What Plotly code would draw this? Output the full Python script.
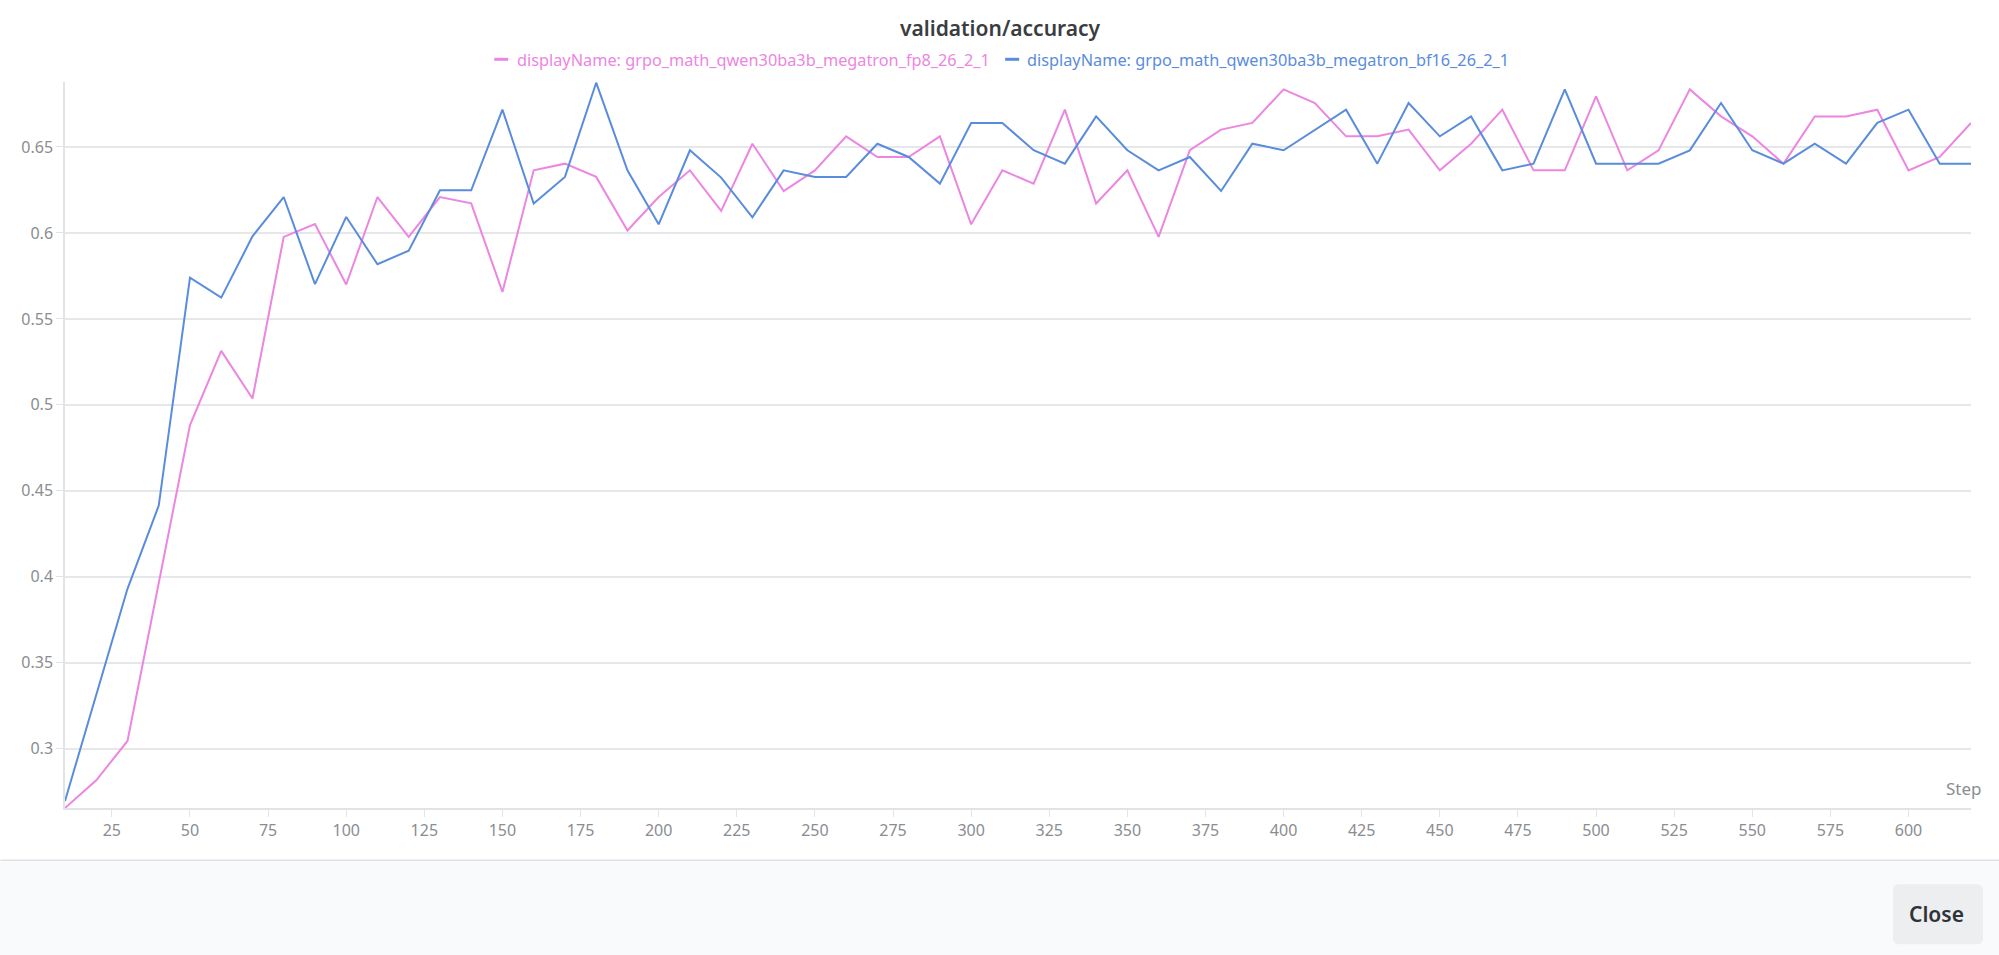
import plotly.graph_objects as go

WIDTH = 1999
HEIGHT = 955

steps = list(range(10, 621, 10))

fp8_name = "displayName: grpo_math_qwen30ba3b_megatron_fp8_26_2_1"
fp8_values = [
    0.2655, 0.2816, 0.3045, 0.396, 0.4882, 0.5314, 0.5037, 0.5977, 0.6052, 0.57,
    0.6209, 0.5977, 0.6209, 0.6172, 0.5657, 0.6364, 0.6403, 0.6326, 0.6014, 0.6209,
    0.6364, 0.6128, 0.6519, 0.6244, 0.6364, 0.6562, 0.6442, 0.6442, 0.6562, 0.605,
    0.6364, 0.6287, 0.6717, 0.6171, 0.6364, 0.5977, 0.6481, 0.6601, 0.664, 0.6835,
    0.6756, 0.6562, 0.6562, 0.6601, 0.6364, 0.6519, 0.6717, 0.6364, 0.6364, 0.6795,
    0.6364, 0.648, 0.6835, 0.6678, 0.6562, 0.6403, 0.6678, 0.6678, 0.6717, 0.6364,
    0.6442, 0.664,
]

bf16_name = "displayName: grpo_math_qwen30ba3b_megatron_bf16_26_2_1"
bf16_values = [
    0.2696, 0.332, 0.393, 0.4414, 0.574, 0.5624, 0.598, 0.6209, 0.5702, 0.6093,
    0.5818, 0.5897, 0.6248, 0.6248, 0.6717, 0.6171, 0.6326, 0.6874, 0.6364, 0.605,
    0.6481, 0.6322, 0.6091, 0.6364, 0.6326, 0.6326, 0.6519, 0.6442, 0.6287, 0.664,
    0.664, 0.6481, 0.6403, 0.6678, 0.6481, 0.6364, 0.6442, 0.6244, 0.6519, 0.6481,
    0.66, 0.6717, 0.6403, 0.6756, 0.6562, 0.6678, 0.6364, 0.6403, 0.6835, 0.6403,
    0.6403, 0.6403, 0.648, 0.6756, 0.6481, 0.6403, 0.6519, 0.6403, 0.664, 0.6717,
    0.6403, 0.6403,
]

x_ticks = list(range(25, 601, 25))
y_ticks = [0.3, 0.35, 0.4, 0.45, 0.5, 0.55, 0.6, 0.65]
y_labels = ["0.3", "0.35", "0.4", "0.45", "0.5", "0.55", "0.6", "0.65"]

PINK = "#ec86e0"
BLUE = "#5a8cdc"
FONT = "Noto Sans"

# plot area in page pixels
left, right, top, bottom = 64.7, 1971, 81.7, 807.7


def px(x):
    return (x - left) / (right - left)


def py(y):
    return (bottom - y) / (bottom - top)


fig = go.Figure()
fig.add_trace(go.Scatter(x=steps, y=fp8_values, mode="lines", name=fp8_name,
                         line=dict(color=PINK, width=2)))
fig.add_trace(go.Scatter(x=steps, y=bf16_values, mode="lines", name=bf16_name,
                         line=dict(color=BLUE, width=2)))

fig.update_layout(
    width=WIDTH,
    height=HEIGHT,
    autosize=False,
    showlegend=False,
    paper_bgcolor="white",
    plot_bgcolor="white",
    font=dict(family=FONT, size=16, color="#8a8d91"),
    margin=dict(l=left, r=WIDTH - right, t=top, b=HEIGHT - bottom, pad=0),
    xaxis=dict(range=[10, 620], tickvals=x_ticks, ticks="outside", ticklen=7,
               tickcolor="#e2e3e5", showgrid=False, showline=True, linecolor="#e2e3e5",
               linewidth=1.5, zeroline=False, tickfont=dict(size=16, color="#8a8d91")),
    yaxis=dict(range=[0.2655, 0.6878], tickvals=y_ticks, ticktext=y_labels,
               ticks="outside", ticklen=7, tickcolor="#e2e3e5", gridcolor="#e6e7e9",
               gridwidth=1.5, showline=True, linecolor="#e2e3e5", linewidth=1.5,
               zeroline=False, tickfont=dict(size=16, color="#8a8d91")),
)


def page_text(text, x, y, size, color, anchor="center", bold=False):
    fig.add_annotation(text=text, x=px(x), y=py(y), xref="paper", yref="paper",
                       showarrow=False, xanchor=anchor, yanchor="middle",
                       font=dict(family=FONT, size=size, color=color,
                                 weight=600 if bold else 400))


page_text("validation/accuracy", 1000, 28, 21, "#3a3d41", bold=True)
page_text("Step", 1984, 788, 17, "#8a8d91", anchor="right")

# legend: short dash plus coloured text, placed like the original
page_text(fp8_name, 515, 60, 16.3, PINK, anchor="left")
page_text(bf16_name, 1025, 60, 16.3, BLUE, anchor="left")
for x0, x1, color in [(494, 508, PINK), (1005, 1019, BLUE)]:
    fig.add_shape(type="line", xref="paper", yref="paper", x0=px(x0), x1=px(x1),
                  y0=py(59), y1=py(59), line=dict(color=color, width=3))

# footer band with the Close button
fig.add_shape(type="rect", xref="paper", yref="paper", layer="below",
              x0=px(0), x1=px(WIDTH), y0=py(860), y1=py(HEIGHT),
              fillcolor="#f9fafb", line=dict(width=0))
fig.add_shape(type="line", xref="paper", yref="paper", x0=px(0), x1=px(WIDTH),
              y0=py(860), y1=py(860), line=dict(color="#dfe1e4", width=1.5))

bx0, bx1, by0, by1, r = 1893, 1983, 884, 944, 6
button_path = (
    f"M {px(bx0 + r)} {py(by0)} L {px(bx1 - r)} {py(by0)} "
    f"Q {px(bx1)} {py(by0)} {px(bx1)} {py(by0 + r)} L {px(bx1)} {py(by1 - r)} "
    f"Q {px(bx1)} {py(by1)} {px(bx1 - r)} {py(by1)} L {px(bx0 + r)} {py(by1)} "
    f"Q {px(bx0)} {py(by1)} {px(bx0)} {py(by1 - r)} L {px(bx0)} {py(by0 + r)} "
    f"Q {px(bx0)} {py(by0)} {px(bx0 + r)} {py(by0)} Z"
)
fig.add_shape(type="path", xref="paper", yref="paper", path=button_path,
              fillcolor="#eceef0", line=dict(width=0))
page_text("Close", 1936, 914, 21, "#2f3338", bold=True)

fig.write_html("out.html", config=dict(displayModeBar=False),
               post_script="document.body.style.margin='0';document.body.style.overflow='hidden';")
